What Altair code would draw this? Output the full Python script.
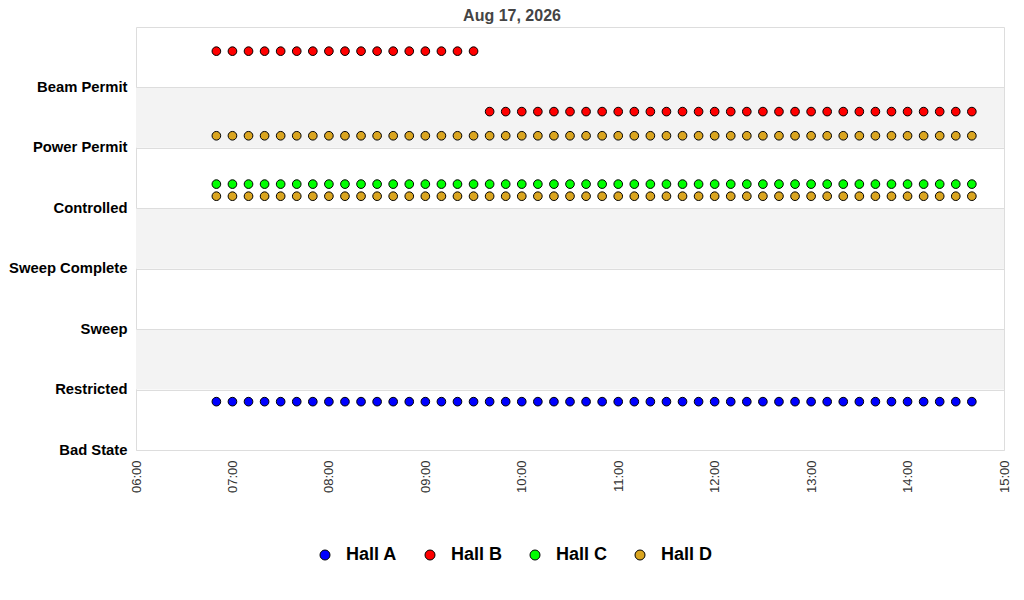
import altair as alt
import pandas as pd

# sample times (HH:MM) on Aug 17, 2026
times = [
    "06:50",
    "07:00", "07:10", "07:20", "07:30", "07:40", "07:50",
    "08:00", "08:10", "08:20", "08:30", "08:40", "08:50",
    "09:00", "09:10", "09:20", "09:30", "09:40", "09:50",
    "10:00", "10:10", "10:20", "10:30", "10:40", "10:50",
    "11:00", "11:10", "11:20", "11:30", "11:40", "11:50",
    "12:00", "12:10", "12:20", "12:30", "12:40", "12:50",
    "13:00", "13:10", "13:20", "13:30", "13:40", "13:50",
    "14:00", "14:10", "14:20", "14:30", "14:40",
]

# x axis tick hours
tick_hours = [6, 7, 8, 9, 10, 11, 12, 13, 14, 15]

states = ["Bad State", "Restricted", "Sweep", "Sweep Complete",
          "Controlled", "Power Permit", "Beam Permit"]

# state index per sample (0 = Bad State ... 6 = Beam Permit)
hall_a = [0, 0, 0, 0, 0, 0, 0, 0, 0, 0, 0, 0,
          0, 0, 0, 0, 0, 0, 0, 0, 0, 0, 0, 0,
          0, 0, 0, 0, 0, 0, 0, 0, 0, 0, 0, 0,
          0, 0, 0, 0, 0, 0, 0, 0, 0, 0, 0, 0]
hall_b = [6, 6, 6, 6, 6, 6, 6, 6, 6, 6, 6, 6,
          6, 6, 6, 6, 6, 5, 5, 5, 5, 5, 5, 5,
          5, 5, 5, 5, 5, 5, 5, 5, 5, 5, 5, 5,
          5, 5, 5, 5, 5, 5, 5, 5, 5, 5, 5, 5]
hall_c = [4, 4, 4, 4, 4, 4, 4, 4, 4, 4, 4, 4,
          4, 4, 4, 4, 4, 4, 4, 4, 4, 4, 4, 4,
          4, 4, 4, 4, 4, 4, 4, 4, 4, 4, 4, 4,
          4, 4, 4, 4, 4, 4, 4, 4, 4, 4, 4, 4]
hall_d_1 = [5, 5, 5, 5, 5, 5, 5, 5, 5, 5, 5, 5,
            5, 5, 5, 5, 5, 5, 5, 5, 5, 5, 5, 5,
            5, 5, 5, 5, 5, 5, 5, 5, 5, 5, 5, 5,
            5, 5, 5, 5, 5, 5, 5, 5, 5, 5, 5, 5]
hall_d_2 = [4, 4, 4, 4, 4, 4, 4, 4, 4, 4, 4, 4,
            4, 4, 4, 4, 4, 4, 4, 4, 4, 4, 4, 4,
            4, 4, 4, 4, 4, 4, 4, 4, 4, 4, 4, 4,
            4, 4, 4, 4, 4, 4, 4, 4, 4, 4, 4, 4]

halls = ["Hall A", "Hall B", "Hall C", "Hall D"]
colors = ["#0000ff", "#ff0000", "#00ff00", "#daa520"]
hall_offset = {"Hall A": 0.8, "Hall B": 0.6, "Hall C": 0.4, "Hall D": 0.2}

rows = []
for hall, series in [("Hall A", hall_a), ("Hall B", hall_b), ("Hall C", hall_c),
                     ("Hall D", hall_d_1), ("Hall D", hall_d_2)]:
    for t, lv in zip(times, series):
        rows.append({"time": f"2026-08-17T{t}:00", "hall": hall,
                     "y": lv + hall_offset[hall]})
df = pd.DataFrame(rows)

band_lo = [1, 3, 5]
band_hi = [2, 4, 6]
bands = pd.DataFrame({"lo": band_lo, "hi": band_hi,
                      "time": "2026-08-17T06:00:00", "end": "2026-08-17T15:00:00"})

FONT = "Liberation Sans"
x_domain = [alt.DateTime(year=2026, month=8, date=17, hours=6),
            alt.DateTime(year=2026, month=8, date=17, hours=15)]
x_ticks = [alt.DateTime(year=2026, month=8, date=17, hours=h) for h in tick_hours]

label_expr = "[" + ",".join(f"'{s}'" for s in states) + "][datum.value]"

x_scale = alt.Scale(domain=x_domain, nice=False)
x_axis = alt.Axis(title=None, format="%H:%M", labelAngle=270,
                  ticks=False, grid=False, domain=False,
                  labelPadding=10, labelFontSize=13, labelColor="#333",
                  labelFont=FONT, values=x_ticks, labelOverlap=False)
y_scale = alt.Scale(domain=[0, 7], nice=False, zero=True)
y_axis = alt.Axis(title=None, values=[0, 1, 2, 3, 4, 5, 6],
                  labelExpr=label_expr, ticks=False, domain=False,
                  grid=True, gridColor="#dddddd", zindex=1,
                  labelFont=FONT, labelFontSize=14.8, labelFontWeight="bold",
                  labelColor="#000", labelPadding=9)

band_layer = alt.Chart(bands).mark_rect(color="#f3f3f3").encode(
    x=alt.X("time:T", scale=x_scale, axis=x_axis),
    x2="end:T",
    y=alt.Y("lo:Q", scale=y_scale, axis=y_axis),
    y2="hi:Q",
)

points = alt.Chart(df).mark_point(
    filled=True, shape="circle", size=75, opacity=1,
    stroke="black", strokeWidth=1
).encode(
    x=alt.X("time:T", scale=x_scale, axis=x_axis),
    y=alt.Y("y:Q", scale=y_scale, axis=y_axis),
    color=alt.Color("hall:N", scale=alt.Scale(domain=halls, range=colors),
                    legend=alt.Legend(orient="none", legendX=180, legendY=519,
                                      direction="horizontal", title=None,
                                      labelFont=FONT, labelFontSize=18,
                                      labelFontWeight="bold", labelColor="#000",
                                      symbolType="circle", symbolSize=100,
                                      symbolStrokeColor="black", symbolStrokeWidth=1,
                                      symbolOpacity=1, labelOffset=12,
                                      columnPadding=23)),
)

chart = alt.layer(band_layer, points).properties(
    width=868, height=423,
    autosize=alt.AutoSizeParams(type="none"),
    padding={"left": 128, "top": 19, "right": 12, "bottom": 140},
    title=alt.TitleParams("Aug 17, 2026", font=FONT, fontSize=16, fontWeight="bold",
                          color="#444", anchor="middle", dx=-58, offset=3),
).configure_view(stroke="#dddddd", strokeWidth=1)

chart.save("out.html", embed_options={"renderer": "svg", "actions": False})
